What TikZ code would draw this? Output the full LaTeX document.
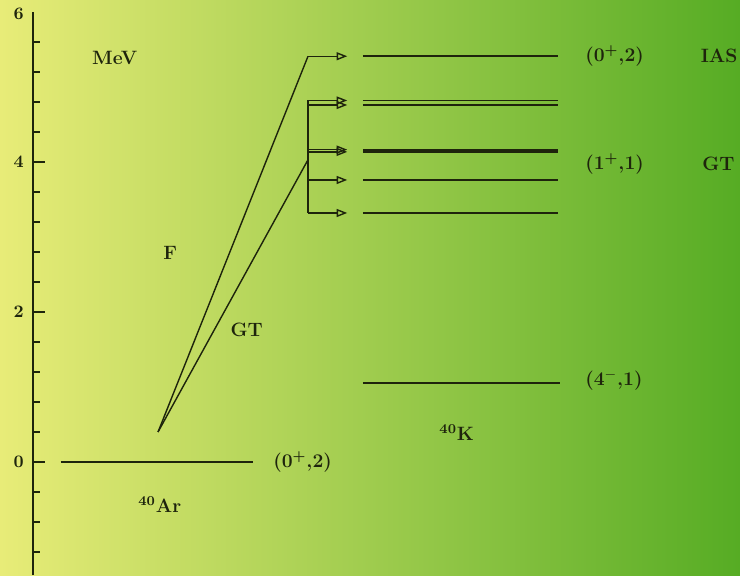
\documentclass[tikz,border=0pt]{standalone}
\usepackage{tikz}
\usetikzlibrary{arrows.meta, calc}
\definecolor{paleyellow}{RGB}{232, 236, 120}
\definecolor{meadow}{RGB}{170, 208, 78}
\definecolor{leafgreen}{RGB}{86, 172, 36}
\definecolor{ink}{RGB}{30, 36, 12}

\begin{document}
\begin{tikzpicture}[x=1.5cm, y=1.5cm, font=\fontsize{11}{13}\selectfont\bfseries,
  level/.style={ink, line width=1.1pt},
  trans/.style={ink, line width=0.8pt},
  feed/.style={ink, line width=0.8pt, -{Triangle[open, length=6pt, width=4.5pt]}},
  jlabel/.style={ink, anchor=west, inner sep=0pt},
  ticklabel/.style={ink, font=\fontsize{10}{12}\selectfont\bfseries, inner sep=0pt}]
  % Background - pale yellow to green
  \useasboundingbox (-0.44,-1.507) rectangle (9.427,6.16);
  \shade[left color=paleyellow, middle color=meadow, right color=leafgreen] (-0.44,-1.507) rectangle (9.427,6.16);
  % Energy axis
  \draw[ink, line width=1.1pt] (0,-1.507) -- (0,6);
  \foreach \i in {-3,...,14} {
    \draw[ink, line width=0.8pt] (0,\i*0.4) -- ++(0.09,0);
  }
  \foreach \e in {0,2,4} {
    \draw[ink, line width=0.8pt] (0,\e) -- ++(0.16,0);
    \node[ticklabel] (tick-\e) at (-0.19,\e) {\e};
  }
  \node[ticklabel] (tick-6) at (-0.19,5.97) {6};
  \node[ink] (unit) at (1.09,5.39) {MeV};
  % Ground state of 40Ar
  \coordinate (ar-l) at (0.37,0);
  \coordinate (ar-r) at (2.93,0);
  \draw[level] (ar-l) -- (ar-r);
  \node[jlabel] (ar-jt) at (3.2,0) {(0\textsuperscript{+},2)};
  \node[ink] (ar-name) at (1.69,-0.57) {\textsuperscript{40}Ar};
  % States in 40K
  \coordinate (k-ias-l) at (4.4,5.41);
  \coordinate (k-ias-r) at (7.0,5.41);
  \draw[level] (k-ias-l) -- (k-ias-r);
  \foreach \y/\n in {4.82/a, 4.76/b, 4.165/c, 4.135/d, 3.76/e, 3.32/f} {
    \coordinate (k-\n-l) at (4.4,\y);
    \coordinate (k-\n-r) at (7.0,\y);
    \draw[level] (k-\n-l) -- (k-\n-r);
  }
  \coordinate (k-low-l) at (4.4,1.05);
  \coordinate (k-low-r) at (7.03,1.05);
  \draw[level] (k-low-l) -- (k-low-r);
  \node[jlabel] (k-ias-jt) at (7.36,5.41) {(0\textsuperscript{+},2)};
  \node[jlabel] (k-ias-name) at (8.9,5.41) {IAS};
  \node[jlabel] (k-gt-jt) at (7.36,3.98) {(1\textsuperscript{+},1)};
  \node[jlabel] (k-gt-name) at (8.92,3.98) {GT};
  \node[jlabel] (k-low-jt) at (7.36,1.09) {(4\textsuperscript{$-$},1)};
  \node[ink] (k-name) at (5.65,0.39) {\textsuperscript{40}K};
  % Transitions - Fermi and Gamow-Teller
  \coordinate (src) at (1.667,0.4);
  \coordinate (f-bend) at (3.667,5.41);
  \coordinate (f-tip) at (4.19,5.41);
  \coordinate (gt-join) at (3.667,4.03);
  \coordinate (brk-top) at (3.667,4.82);
  \coordinate (brk-bot) at (3.667,3.32);
  \draw[trans] (src) -- (f-bend);
  \draw[feed] (f-bend) -- (f-tip);
  \draw[trans] (src) -- (gt-join);
  \draw[trans] (brk-top) -- (brk-bot);
  \foreach \y/\n in {4.82/a, 4.76/b, 4.165/c, 4.135/d, 3.76/e, 3.32/f} {
    \coordinate (b-\n) at (3.667,\y);
    \coordinate (t-\n) at (4.19,\y);
    \draw[feed] (b-\n) -- (t-\n);
  }
  \node[ink] (f-name) at (1.83,2.79) {F};
  \node[ink] (gt-name) at (2.85,1.76) {GT};
\end{tikzpicture}
\end{document}
